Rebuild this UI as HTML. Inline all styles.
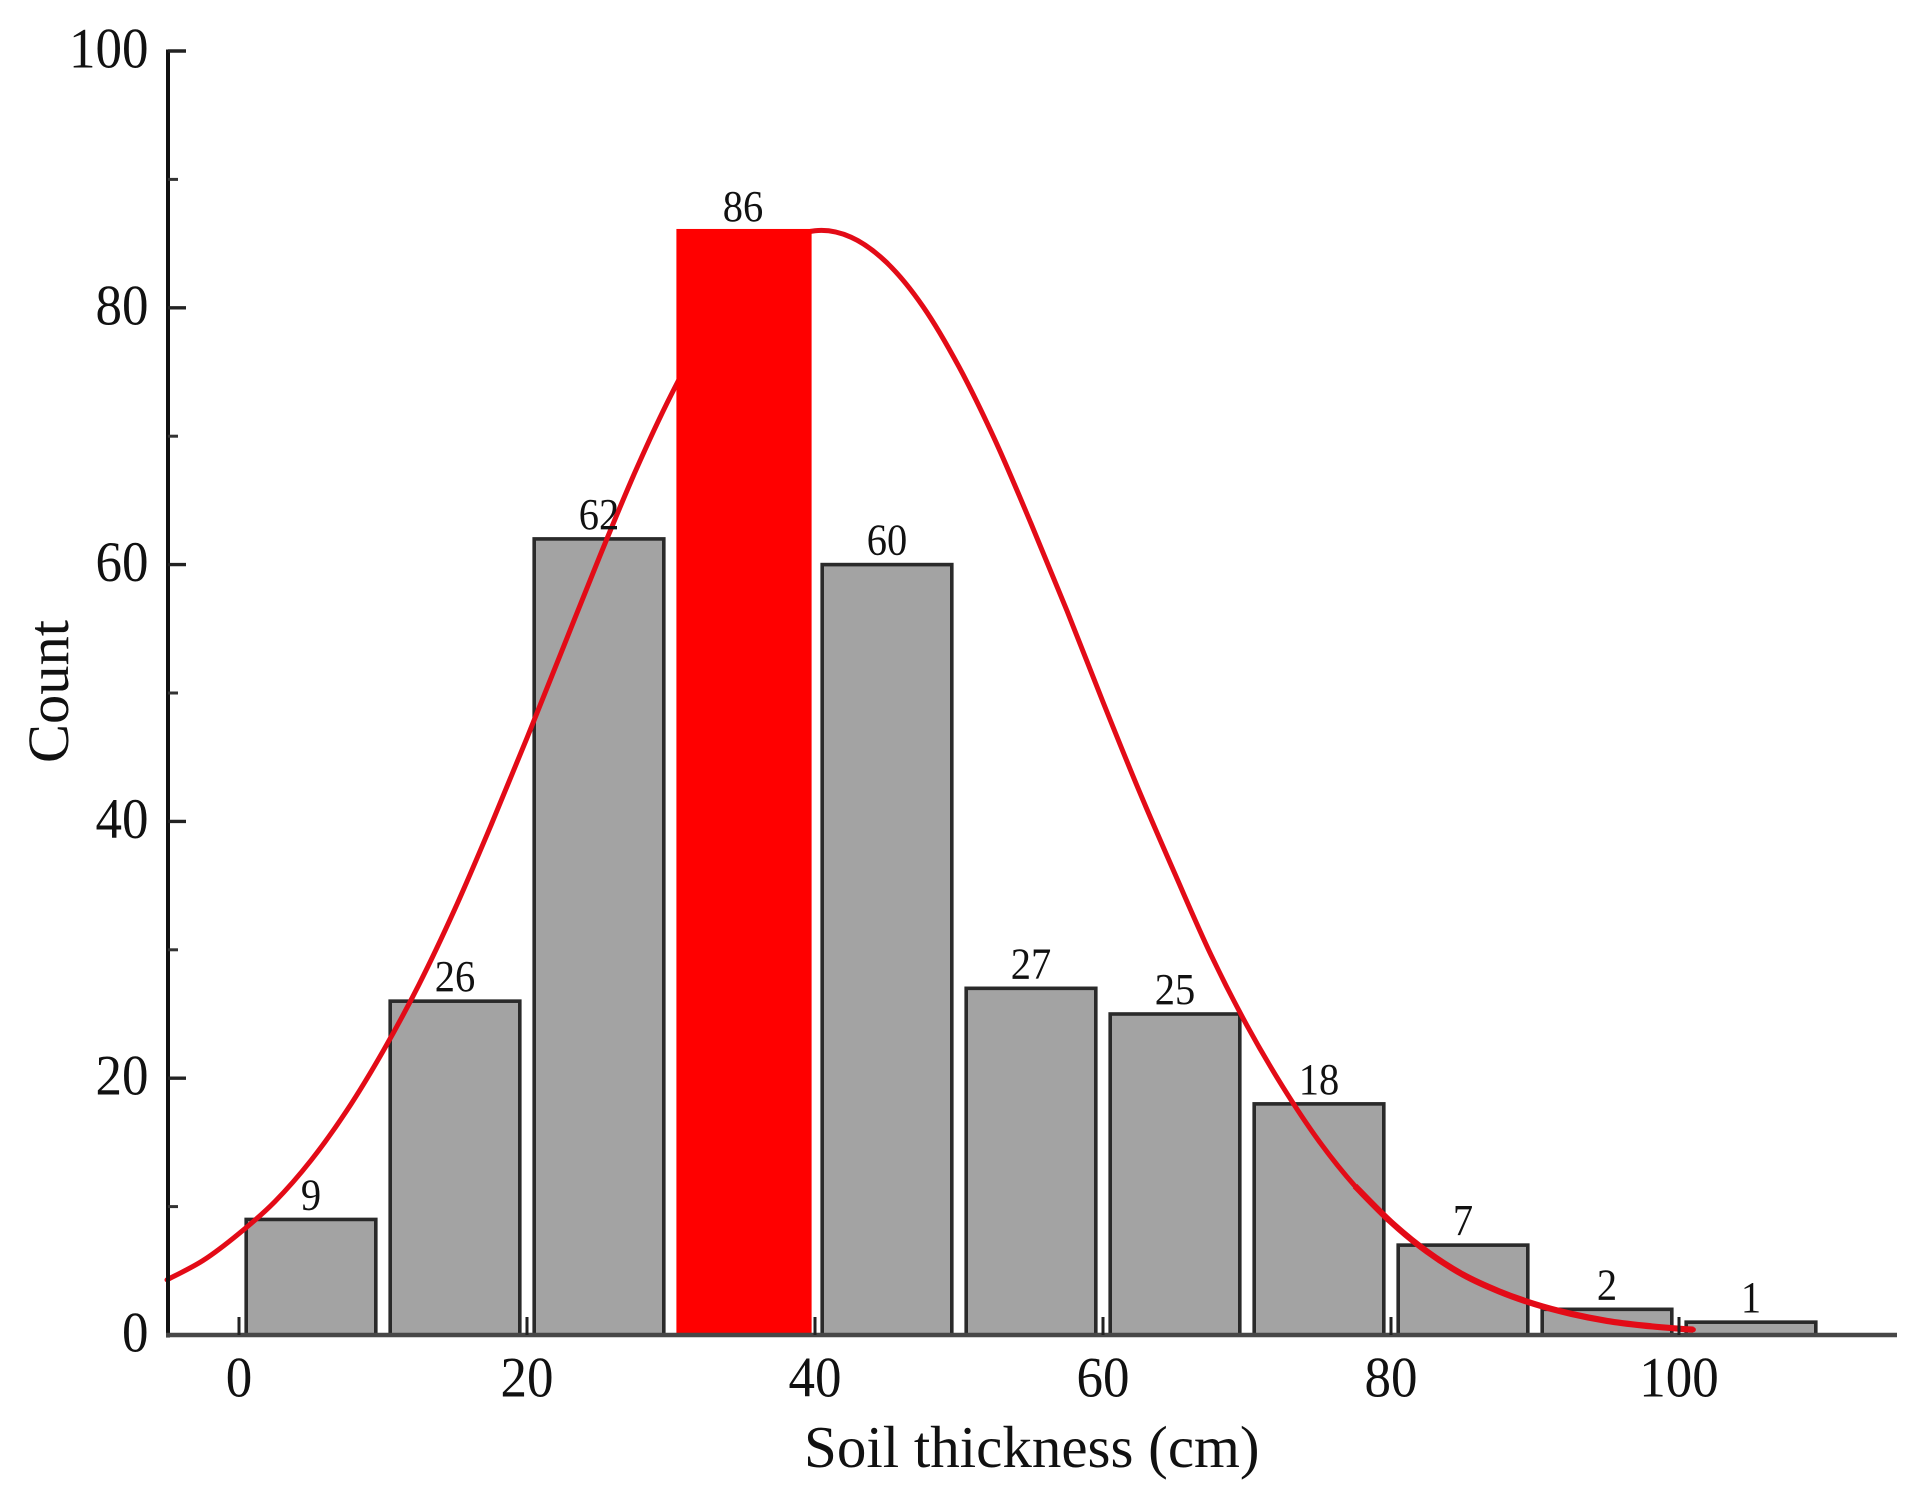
<!DOCTYPE html>
<html lang="en">
<head>
<meta charset="utf-8">
<title>Soil thickness histogram</title>
<style>
  html, body { margin: 0; padding: 0; background: #fff; }
  svg { display: block; font-family: "Liberation Serif", "Times New Roman", serif; }
</style>
</head>
<body>
<svg id="chart" xmlns="http://www.w3.org/2000/svg" width="1928" height="1499" viewBox="0 0 1928 1499">
  <rect x="0" y="0" width="1928" height="1499" fill="#ffffff"/>
  <g id="bars"></g>
  <path id="curve" fill="none" stroke="#e30b17" stroke-width="5" stroke-linecap="round" stroke-linejoin="round"/>
  <path id="curve-tail" fill="none" stroke="#e30b17" stroke-width="6.2" stroke-linecap="butt" stroke-linejoin="round"/>
  <g id="highlight"></g>
  <g id="bar-labels"></g>
  <g id="axes"></g>
  <text x="804" y="1467" font-size="59" fill="#111111">Soil thickness (cm)</text>
  <text transform="translate(68 691.5) rotate(-90)" text-anchor="middle" font-size="58.5" fill="#111111">Count</text>
</svg>
<script>
var binCenters = [5, 15, 25, 35, 45, 55, 65, 75, 85, 95, 105];
var binCounts = [9, 26, 62, 86, 60, 27, 25, 18, 7, 2, 1];
var highlightedCount = 86;
var binWidth = 9;
var xMajorTicks = [0, 20, 40, 60, 80, 100];
var yMajorTicks = [0, 20, 40, 60, 80, 100];
var yMinorTicks = [10, 30, 50, 70, 90];
var curveThickness = [-5, -2.5, 0, 2.5, 5, 7.5, 10, 12.5, 15, 17.5, 20, 22.5, 25, 27.5, 30, 32.5, 35, 37.5, 40, 42.5, 45, 47.5, 50, 52.5, 55, 57.5, 60, 62.5, 65, 67.5, 70, 72.5, 75, 77.5, 80, 82.5, 85, 87.5, 90, 92.5, 95, 97.5, 100, 101];
var curveCount = [4.3, 5.8, 7.9, 10.4, 13.6, 17.5, 22.1, 27.3, 33.2, 39.7, 46.5, 53.5, 60.5, 67.2, 73.2, 78.3, 82.3, 84.9, 86, 85.5, 83.5, 80.1, 75.4, 69.7, 63.2, 56.4, 49.3, 42.4, 35.9, 29.6, 24.1, 19.3, 15.1, 11.6, 8.8, 6.5, 4.7, 3.4, 2.4, 1.65, 1.1, 0.74, 0.49, 0.42];
var curveTailStart = 77.5;

var SVG_NS = 'http://www.w3.org/2000/svg';

function xScale(v) { return 239 + 14.4 * v; }
function yScale(v) { return 1335 - 12.84 * v; }

function make(tag, parent) {
  var el = document.createElementNS(SVG_NS, tag);
  parent.appendChild(el);
  return el;
}

function drawRule(parent, x1, y1, x2, y2, color, width) {
  var el = make('line', parent);
  el.setAttribute('x1', x1);
  el.setAttribute('y1', y1);
  el.setAttribute('x2', x2);
  el.setAttribute('y2', y2);
  el.setAttribute('stroke', color);
  el.setAttribute('stroke-width', width);
  return el;
}

function drawLabel(parent, x, y, anchor, size, narrow, content) {
  var el = make('text', parent);
  el.setAttribute('transform', 'translate(' + x + ' ' + y + ') scale(' + narrow + ' 1)');
  el.setAttribute('text-anchor', anchor);
  el.setAttribute('font-size', size);
  el.setAttribute('fill', '#111111');
  el.textContent = content;
  return el;
}

function smoothPath(points) {
  var d = 'M' + points[0][0].toFixed(2) + ' ' + points[0][1].toFixed(2);
  for (var k = 0; k < points.length - 1; k++) {
    var p0 = points[Math.max(k - 1, 0)];
    var p1 = points[k];
    var p2 = points[k + 1];
    var p3 = points[Math.min(k + 2, points.length - 1)];
    d += ' C' + (p1[0] + (p2[0] - p0[0]) / 6).toFixed(2) + ' ' + (p1[1] + (p2[1] - p0[1]) / 6).toFixed(2) +
      ' ' + (p2[0] - (p3[0] - p1[0]) / 6).toFixed(2) + ' ' + (p2[1] - (p3[1] - p1[1]) / 6).toFixed(2) +
      ' ' + p2[0].toFixed(2) + ' ' + p2[1].toFixed(2);
  }
  return d;
}

var barsGroup = document.getElementById('bars');
var highlightGroup = document.getElementById('highlight');
var labelsGroup = document.getElementById('bar-labels');
var axesGroup = document.getElementById('axes');

binCenters.forEach(function (center, i) {
  var count = binCounts[i];
  var isPeak = count === highlightedCount;
  var rect = make('rect', isPeak ? highlightGroup : barsGroup);
  
  
  rect.setAttribute('x', xScale(center - binWidth / 2));
  rect.setAttribute('y', yScale(count));
  rect.setAttribute('width', xScale(center + binWidth / 2) - xScale(center - binWidth / 2) + (isPeak ? 2 : 0));
  rect.setAttribute('height', yScale(0) - yScale(count));
  rect.setAttribute('fill', isPeak ? '#ff0000' : '#a3a3a3');
  rect.setAttribute('stroke', isPeak ? '#ff0000' : '#2a2a2a');
  rect.setAttribute('stroke-width', '3.6');

  var label = drawLabel(labelsGroup, xScale(center), yScale(count) - 10, 'middle', 44, 0.92, String(count));
  
  
});

var points = curveThickness.map(function (t, i) {
  return [xScale(t), yScale(curveCount[i])];
});
document.getElementById('curve').setAttribute('d', smoothPath(points));

var tailPoints = points.filter(function (p, i) {
  return curveThickness[i] >= curveTailStart;
});
document.getElementById('curve-tail').setAttribute('d', smoothPath(tailPoints));

var yAxisLine = drawRule(axesGroup, 168, yScale(100) - 1.5, 168, yScale(0) + 2.5, '#111111', 4);



var xAxisLine = drawRule(axesGroup, 166, yScale(0), 1897, yScale(0), '#474747', 4.6);



yMajorTicks.forEach(function (v) {
  if (v !== 0) {
    var tick = drawRule(axesGroup, 168, yScale(v), 186, yScale(v), '#222222', 3.4);
    
    
  }
  var label = drawLabel(axesGroup, 148.5, yScale(v) + 16.5, 'end', 57, 0.93, String(v));
  
  
});

yMinorTicks.forEach(function (v) {
  var tick = drawRule(axesGroup, 168, yScale(v), 178, yScale(v), '#333333', 3);
  
  
});

xMajorTicks.forEach(function (v) {
  var tick = drawRule(axesGroup, xScale(v), yScale(0), xScale(v), yScale(0) - 18, '#222222', 3);
  
  
  var label = drawLabel(axesGroup, xScale(v), 1396.5, 'middle', 57, 0.93, String(v));
  
  
});
</script>
</body>
</html>
